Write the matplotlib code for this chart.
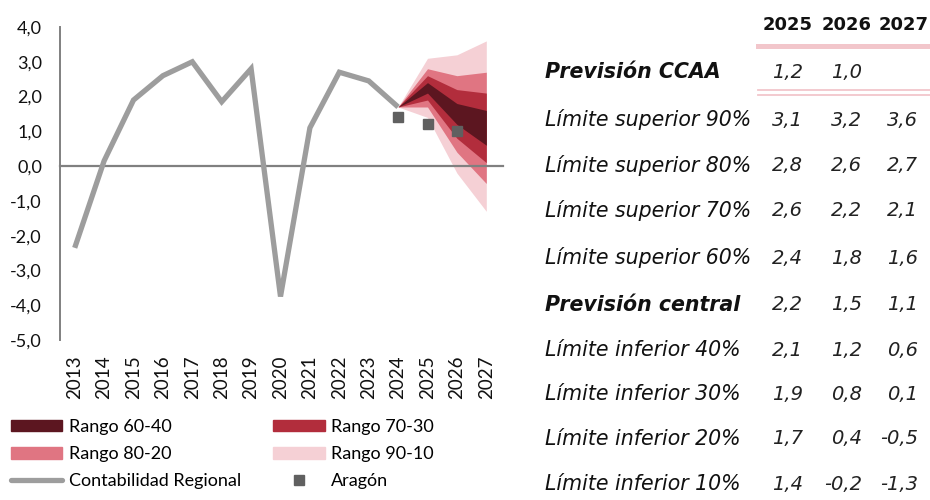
import matplotlib
matplotlib.use('Agg')
import matplotlib.pyplot as plt
from matplotlib.patches import Patch
from matplotlib.lines import Line2D

# ---------------- data ----------------
years = ['2013', '2014', '2015', '2016', '2017', '2018', '2019', '2020',
         '2021', '2022', '2023', '2024', '2025', '2026', '2027']
actual = [-2.35, 0.15, 1.9, 2.6, 3.0, 1.85, 2.8, -3.75, 1.1, 2.7, 2.45, 1.7]
forecast_years = ['2025', '2026', '2027']
sup90 = [3.1, 3.2, 3.6]
sup80 = [2.8, 2.6, 2.7]
sup70 = [2.6, 2.2, 2.1]
sup60 = [2.4, 1.8, 1.6]
central = [2.2, 1.5, 1.1]
inf40 = [2.1, 1.2, 0.6]
inf30 = [1.9, 0.8, 0.1]
inf20 = [1.7, 0.4, -0.5]
inf10 = [1.4, -0.2, -1.3]
prev_ccaa = [1.2, 1.0, None]
aragon_years = ['2024', '2025', '2026']
aragon = [1.4, 1.2, 1.0]
yticks = [4, 3, 2, 1, 0, -1, -2, -3, -4, -5]

row_labels = ['Límite superior 90%', 'Límite superior 80%', 'Límite superior 70%',
              'Límite superior 60%', 'Previsión central', 'Límite inferior 40%',
              'Límite inferior 30%', 'Límite inferior 20%', 'Límite inferior 10%']
row_values = [sup90, sup80, sup70, sup60, central, inf40, inf30, inf20, inf10]

# ---------------- style ----------------
C6040 = '#5C1620'
C7030 = '#B22D3C'
C8020 = '#E07582'
C9010 = '#F5D0D5'
GREY = '#9D9D9D'
MARK = '#606060'
AXC = '#808080'
PINK = '#F2C6CB'
CHART_FONT = 'Lato'
TAB_FONT = 'DejaVu Sans'

W, H = 930, 500
fig = plt.figure(figsize=(W / 100, H / 100), dpi=100)

def fx(px):
    return px / W

def fy(py):
    return 1 - py / H

ax = fig.add_axes([fx(60), fy(340), fx(501) - fx(60), fy(27) - fy(340)])

xidx = {y: i for i, y in enumerate(years)}
xa = list(range(len(actual)))
xf = [len(actual) - 1] + [xidx[y] for y in forecast_years]
start = actual[-1]

def ext(v):
    return [start] + list(v)

ax.fill_between(xf, ext(inf10), ext(sup90), color=C9010, lw=0, zorder=1)
ax.fill_between(xf, ext(inf20), ext(sup80), color=C8020, lw=0, zorder=2)
ax.fill_between(xf, ext(inf30), ext(sup70), color=C7030, lw=0, zorder=3)
ax.fill_between(xf, ext(inf40), ext(sup60), color=C6040, lw=0, zorder=4)

ax.axhline(0, color=AXC, lw=1.6, zorder=5, xmax=1.005, clip_on=False)
ax.plot(xa, actual, color=GREY, lw=3.8, zorder=6, solid_capstyle='butt',
        solid_joinstyle='miter')
ax.plot([xidx[y] for y in aragon_years], aragon, ls='none', marker='s',
        ms=7.5, color=MARK, zorder=7)

ax.set_xlim(-0.5, len(years) - 0.5)
ax.set_ylim(-5, 4)
ax.set_yticks(yticks)
ax.set_yticklabels([f'{v:.1f}'.replace('.', ',') for v in yticks],
                   fontsize=13, family=CHART_FONT, color='#111111')
ax.set_xticks(range(len(years)))
ax.set_xticklabels(years, rotation=90, fontsize=13.5, family=CHART_FONT,
                   color='#111111')
ax.tick_params(axis='both', length=0)
ax.tick_params(axis='x', pad=11)
ax.tick_params(axis='y', pad=13)
for s in ['top', 'right', 'bottom']:
    ax.spines[s].set_visible(False)
ax.spines['left'].set_color(AXC)
ax.spines['left'].set_linewidth(1.4)
ax.patch.set_alpha(0)

# ---------------- legend ----------------
handles = [Patch(color=C6040), Patch(color=C8020),
           Line2D([], [], color=GREY, lw=3.8, solid_capstyle='round'),
           Patch(color=C7030), Patch(color=C9010),
           Line2D([], [], ls='none', marker='s', ms=7.5, color=MARK)]
labels = ['Rango 60-40', 'Rango 80-20', 'Contabilidad Regional',
          'Rango 70-30', 'Rango 90-10', 'Aragón']
fig.legend(handles, labels, ncol=2, loc='upper left',
           bbox_to_anchor=(fx(11), fy(419)), frameon=False,
           prop={'family': CHART_FONT, 'size': 13},
           handlelength=2.85, handleheight=0.62, handletextpad=0.35,
           columnspacing=1.78, labelspacing=0.62, borderpad=0, borderaxespad=0)

# ---------------- table ----------------
col_x = [803, 862, 918]
hdr_x = [788, 847, 904]
for x, y in zip(hdr_x, forecast_years):
    fig.text(fx(x), fy(25), y, ha='center', va='center', fontsize=13,
             fontweight='bold', family=TAB_FONT, color='#111111')

fig.add_artist(Line2D([fx(758), fx(930)], [fy(46), fy(46)], color=PINK, lw=3.6))
fig.add_artist(Line2D([fx(758), fx(930)], [fy(90), fy(90)], color=PINK, lw=1.3))
fig.add_artist(Line2D([fx(758), fx(930)], [fy(94.5), fy(94.5)], color=PINK, lw=1.3))

def fmt(v):
    return '' if v is None else f'{v:.1f}'.replace('.', ',')

LX = 545
FS = 14.8
fig.text(fx(LX), fy(72), 'Previsión CCAA', ha='left', va='center', fontsize=FS,
         fontweight='bold', style='italic', family=TAB_FONT, color='#111111')
for x, v in zip(col_x, prev_ccaa):
    fig.text(fx(x), fy(72), fmt(v), ha='right', va='center', fontsize=FS - 0.8,
             style='italic', family=TAB_FONT, color='#222222')

row_y = [120, 165, 211, 258, 305, 350, 394, 439, 484]
for lab, vals, y in zip(row_labels, row_values, row_y):
    bold = lab.startswith('Previsión')
    fig.text(fx(LX), fy(y), lab, ha='left', va='center', fontsize=FS,
             fontweight='bold' if bold else 'normal', style='italic',
             family=TAB_FONT, color='#111111')
    for x, v in zip(col_x, vals):
        fig.text(fx(x), fy(y), fmt(v), ha='right', va='center', fontsize=FS - 0.8,
                 style='italic', family=TAB_FONT, color='#222222')

fig.savefig('out.png', dpi=100)
